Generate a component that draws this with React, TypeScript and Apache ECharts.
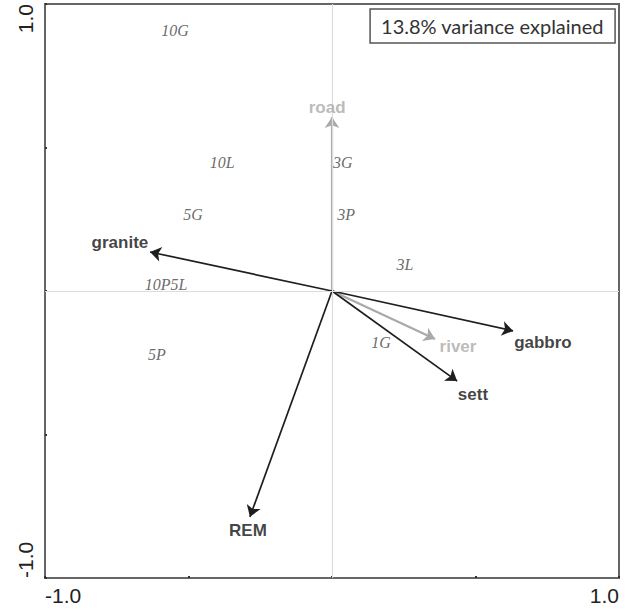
import React, { useEffect, useRef } from "react";
import * as echarts from "echarts";

// Site scores (italic labels)
const siteNames = ["10G", "10L", "3G", "5G", "3P", "3L", "10P5L", "1G", "5P"];
const siteX = [-0.547, -0.383, 0.038, -0.484, 0.049, 0.254, -0.578, 0.171, -0.61];
const siteY = [0.909, 0.446, 0.446, 0.268, 0.268, 0.094, 0.024, -0.181, -0.22];

// Environmental vectors (arrow tips)
const varNames = ["granite", "road", "gabbro", "river", "sett", "REM"];
const varX = [-0.634, 0.0, 0.631, 0.359, 0.436, -0.286];
const varY = [0.136, 0.606, -0.139, -0.167, -0.314, -0.787];
const varLabelX = [-0.739, -0.017, 0.735, 0.439, 0.491, -0.293];
const varLabelY = [0.17, 0.641, -0.181, -0.195, -0.359, -0.836];
const varGrey = [false, true, false, true, false, false];

const tickValues = [-1.0, 1.0];
const varianceText = "13.8% variance explained";

export default function App() {
  const ref = useRef<HTMLDivElement>(null);
  useEffect(() => {
    if (!ref.current) return;
    const chart = echarts.init(ref.current, undefined, { renderer: "svg" });
    const dark = "#1e1e1e";
    const grey = "#a9a9a9";
    const axisColor = "#666";
    const fmt = (v: number) => (tickValues.some((t) => Math.abs(t - v) < 1e-9) ? v.toFixed(1) : "");

    const lineSeries = varNames.map((n, i) => ({
      type: "lines",
      name: n,
      coordinateSystem: "cartesian2d",
      symbol: ["none", "arrow"],
      symbolSize: [0, 11],
      lineStyle: { color: varGrey[i] ? grey : dark, width: varGrey[i] ? 2.2 : 1.7, opacity: 1, curveness: 0 },
      data: [{ coords: [[0, 0], [varX[i], varY[i]]] }],
      z: varGrey[i] ? 3 : 4,
    }));

    chart.setOption({
      animation: false,
      title: {
        text: varianceText,
        right: 10,
        top: 9,
        borderColor: "#555",
        borderWidth: 1.5,
        padding: [7, 11],
        textStyle: { fontSize: 20, fontWeight: "normal", color: "#333", fontFamily: "Lato", lineHeight: 20 },
      },
      grid: {
        left: 45,
        top: 4,
        width: 574,
        height: 574,
        show: true,
        borderColor: axisColor,
        borderWidth: 2,
        backgroundColor: "transparent",
      },
      xAxis: {
        type: "value",
        min: -1,
        max: 1,
        interval: 0.5,
        axisLine: { show: true, onZero: false, lineStyle: { color: axisColor, width: 2 } },
        axisTick: { show: true, inside: true, length: 2, lineStyle: { color: "#333", width: 2 } },
        splitLine: { show: false },
        axisLabel: {
          formatter: fmt,
          fontSize: 21,
          color: "#222",
          fontFamily: "Liberation Sans",
          margin: 7,
          showMinLabel: true,
          showMaxLabel: true,
          alignMinLabel: "left",
          alignMaxLabel: "right",
        },
      },
      yAxis: {
        type: "value",
        min: -1,
        max: 1,
        interval: 0.5,
        axisLine: { show: true, onZero: false, lineStyle: { color: axisColor, width: 2 } },
        axisTick: { show: true, inside: true, length: 2, lineStyle: { color: "#333", width: 2 } },
        splitLine: { show: false },
        axisLabel: {
          formatter: fmt,
          fontSize: 21,
          color: "#222",
          fontFamily: "Liberation Sans",
          rotate: 90,
          margin: 9,
          showMinLabel: true,
          showMaxLabel: true,
          alignMinLabel: "left",
          alignMaxLabel: "right",
        },
      },
      series: [
        {
          type: "scatter",
          name: "zero",
          data: [],
          silent: true,
          markLine: {
            silent: true,
            symbol: "none",
            label: { show: false },
            lineStyle: { color: "#dcdcdc", width: 1.2, type: "solid" },
            data: [{ xAxis: 0 }, { yAxis: 0 }],
          },
          z: 1,
        },
        ...lineSeries,
        {
          type: "scatter",
          name: "sites",
          symbolSize: 0,
          data: siteNames.map((n, i) => ({ name: n, value: [siteX[i], siteY[i]] })),
          label: {
            show: true,
            position: "inside",
            formatter: (p: any) => p.name,
            fontFamily: "Liberation Serif",
            fontStyle: "italic",
            fontSize: 16,
            color: "#444",
          },
          z: 5,
        },
        {
          type: "scatter",
          name: "vars",
          symbolSize: 0,
          data: varNames.map((n, i) => ({
            name: n,
            value: [varLabelX[i], varLabelY[i]],
            label: { color: varGrey[i] ? grey : "#111" },
          })),
          label: {
            show: true,
            position: "inside",
            formatter: (p: any) => p.name,
            fontFamily: "Liberation Sans",
            fontWeight: "bold",
            fontSize: 17,
          },
          z: 6,
        },
      ],
    });
    return () => chart.dispose();
  }, []);
  return <div ref={ref} style={{ position: "absolute", left: 0, top: 0, width: 625, height: 611 }} />;
}
